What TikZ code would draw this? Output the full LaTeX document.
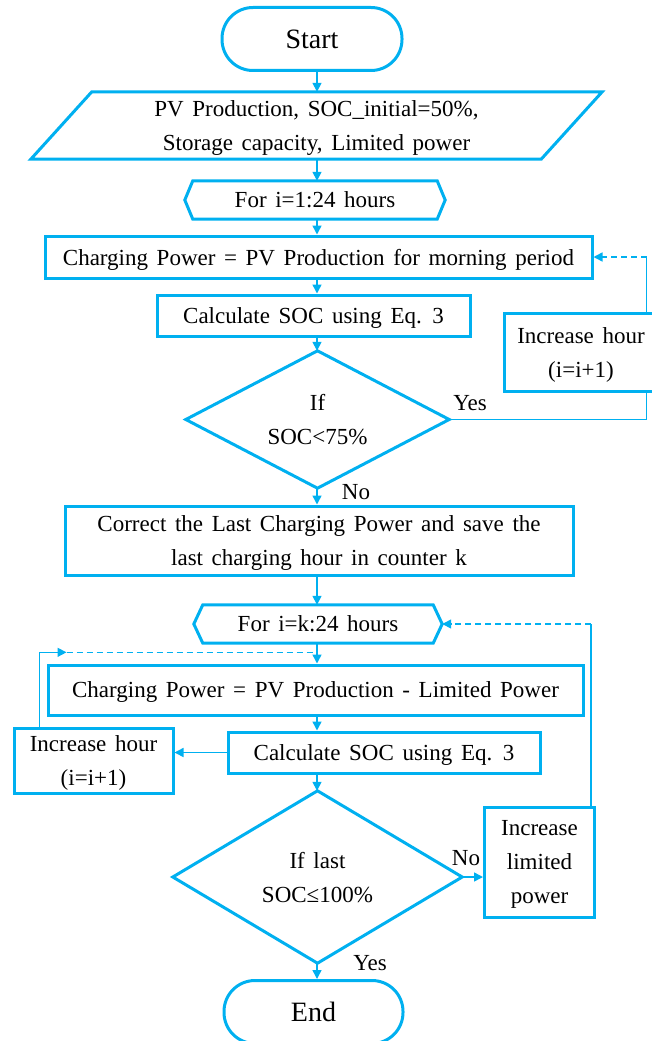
\documentclass[tikz,border=0pt]{standalone}
\usepackage{fontspec}
\setmainfont[WordSpace=1.5]{Liberation Serif}
\usetikzlibrary{arrows.meta,calc}
\definecolor{fc}{RGB}{0,176,240}
\begin{document}
\begin{tikzpicture}[x=1pt,y=-1pt,
 txt/.style={font=\fontsize{23}{34}\selectfont},
 box/.style={draw=fc,line width=3pt,inner sep=0pt,align=center,txt,text depth=0pt},
 term/.style={box,rounded corners=31pt,font=\fontsize{28}{34}\selectfont},
 ghost/.style={inner sep=0pt,align=center,txt,text depth=0pt},
 outline/.style={draw=fc,line width=3pt,line join=miter},
 tip/.style={-{Triangle[length=9pt,width=9pt]}},
 line/.style={draw=fc,line width=1.5pt},
 conn/.style={line,tip},
 dline/.style={line,dash pattern=on 6pt off 4pt},
 lbl/.style={inner sep=0pt,txt}]
\useasboundingbox (0,0) rectangle (651,1041);
\coordinate (col) at (317,0);

% nodes
\node[term,minimum width=180pt,minimum height=63pt] (start) at (312,39) {Start};
\node[ghost,minimum width=510pt,minimum height=67pt] (para) at (316.5,125.5)
  {PV Production, SOC\_initial=50\%,\\Storage capacity, Limited power};
\node[ghost,minimum width=260pt,minimum height=38pt] (for1) at (315,200) {For i=1:24 hours};
\node[box,minimum width=547pt,minimum height=42pt] (cp1) at (318.5,257)
  {Charging Power = PV Production for morning period};
\node[box,minimum width=313pt,minimum height=41pt] (calc1) at (313.5,315.5)
  {Calculate SOC using Eq. 3};
\node[ghost,minimum width=263pt,minimum height=137pt] (dia1) at (317.5,419.5) {If\\SOC<75\%};
\node[box,minimum width=154pt,minimum height=78pt] (inc1) at (581,352.5)
  {Increase hour\\(i=i+1)};
\node[box,minimum width=508pt,minimum height=69pt] (corr) at (319,540.5)
  {Correct the Last Charging Power and save the\\last charging hour in counter k};
\node[ghost,minimum width=248pt,minimum height=38pt] (for2) at (318,624) {For i=k:24 hours};
\node[box,minimum width=535pt,minimum height=50pt] (cp2) at (315.5,690)
  {Charging Power = PV Production - Limited Power};
\node[box,minimum width=312pt,minimum height=41pt] (calc2) at (384,752.5)
  {Calculate SOC using Eq. 3};
\node[box,minimum width=159pt,minimum height=65pt] (inc2) at (93.5,761)
  {Increase hour\\(i=i+1)};
\node[ghost,minimum width=289pt,minimum height=172pt] (dia2) at (317.5,877) {If last\\SOC≤100\%};
\node[box,minimum width=110pt,minimum height=110pt] (inclim) at (539.5,862)
  {Increase\\limited\\power};
\node[term,minimum width=179pt,minimum height=63pt] (end) at (313.5,1012) {End};

% outlines of drawn shapes
\draw[outline] ($(para.north west)+(30.5,0)$) -- ($(para.north east)+(30.5,0)$)
  -- ($(para.south east)+(-30.5,0)$) -- ($(para.south west)+(-30.5,0)$) -- cycle;
\draw[outline] (for1.west) -- ($(for1.north west)+(8,0)$) -- ($(for1.north east)+(-8,0)$)
  -- (for1.east) -- ($(for1.south east)+(-8,0)$) -- ($(for1.south west)+(8,0)$) -- cycle;
\draw[outline] (for2.west) -- ($(for2.north west)+(9,0)$) -- ($(for2.north east)+(-9,0)$)
  -- (for2.east) -- ($(for2.south east)+(-9,0)$) -- ($(for2.south west)+(9,0)$) -- cycle;
\draw[outline] (dia1.north) -- (dia1.east) -- (dia1.south) -- (dia1.west) -- cycle;
\draw[outline] (dia2.north) -- (dia2.east) -- (dia2.south) -- (dia2.west) -- cycle;

% main flow
\draw[conn] (col |- start.south) -- (col |- para.north);
\draw[conn] (col |- para.south) -- (col |- for1.north);
\draw[conn] (col |- for1.south) -- (col |- cp1.north);
\draw[conn] (col |- cp1.south) -- (col |- calc1.north);
\draw[conn] (col |- calc1.south) -- (col |- dia1.north);
\draw[conn] (col |- dia1.south) -- (col |- corr.north);
\draw[conn] (col |- corr.south) -- (col |- for2.north);
\draw[conn] (col |- for2.south) -- (col |- cp2.north);
\draw[conn] (col |- cp2.south) -- (col |- calc2.north);
\draw[conn] (col |- calc2.south) -- (col |- dia2.north);
\draw[conn] (col |- dia2.south) -- (col |- end.north);
\draw[conn] (calc2.west) -- (calc2.west -| inc2.east);
\draw[conn] (dia2.east) -- (dia2.east -| inclim.west);

% loop 1
\coordinate (r1) at ($(inc1.north east)+(-13,0)$);
\draw[line] (dia1.east) -| ($(inc1.south east)+(-13,0)$);
\draw[line] (r1) -- (r1 |- cp1.east);
\draw[dline,tip] (r1 |- cp1.east) -- (cp1.east);

% loop 2
\coordinate (l2) at ($(inc2.north west)+(27,0)$);
\coordinate (j2) at ($(for2.south)!0.45!(cp2.north)$);
\draw[line] (l2) -- (l2 |- j2);
\draw[line,tip] (l2 |- j2) -- ++(27,0);
\draw[dline] ($(l2 |- j2)+(27,0)$) -- (col |- j2);

% loop 3
\coordinate (r3) at ($(inclim.north east)+(-5,0)$);
\draw[line] (r3) -- (r3 |- for2.east);
\draw[dline,tip] (r3 |- for2.east) -- (for2.east);

% labels
\node[lbl] (yes1) at (470,403) {Yes};
\node[lbl] (no1) at (356,492) {No};
\node[lbl] (no2) at (466,858) {No};
\node[lbl] (yes2) at (370,963) {Yes};
\end{tikzpicture}
\end{document}
